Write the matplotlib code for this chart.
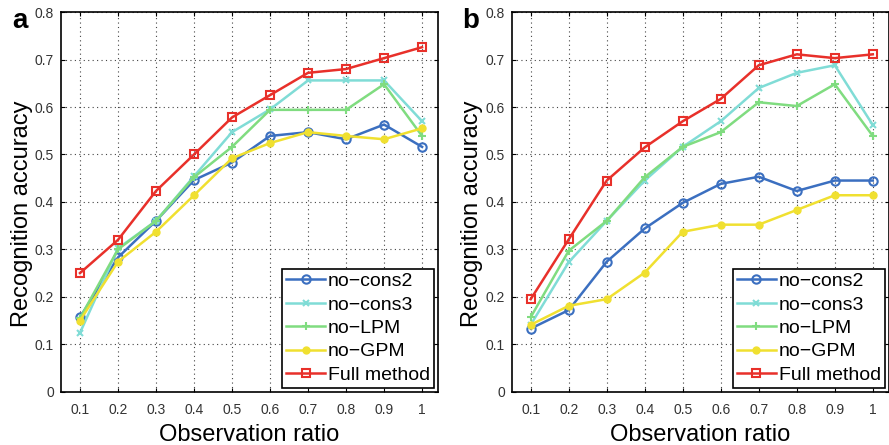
import matplotlib
matplotlib.use("Agg")
import matplotlib.pyplot as plt

# Daten
ratios = [0.1, 0.2, 0.3, 0.4, 0.5, 0.6, 0.7, 0.8, 0.9, 1.0]
xtick_labels = ["0.1", "0.2", "0.3", "0.4", "0.5", "0.6", "0.7", "0.8", "0.9", "1"]
yticks = [0, 0.1, 0.2, 0.3, 0.4, 0.5, 0.6, 0.7, 0.8]
ytick_labels = ["0", "0.1", "0.2", "0.3", "0.4", "0.5", "0.6", "0.7", "0.8"]
labels = ["no\u2212cons2", "no\u2212cons3", "no\u2212LPM", "no\u2212GPM", "Full method"]

# Panel a
a_cons2 = [0.157, 0.283, 0.36, 0.446, 0.483, 0.539, 0.547, 0.532, 0.563, 0.516]
a_cons3 = [0.124, 0.302, 0.36, 0.454, 0.547, 0.595, 0.656, 0.656, 0.656, 0.570]
a_lpm = [0.155, 0.300, 0.36, 0.452, 0.516, 0.594, 0.594, 0.594, 0.648, 0.539]
a_gpm = [0.150, 0.274, 0.337, 0.414, 0.492, 0.524, 0.547, 0.539, 0.532, 0.555]
a_full = [0.250, 0.320, 0.423, 0.500, 0.578, 0.625, 0.672, 0.680, 0.703, 0.726]

# Panel b
b_cons2 = [0.133, 0.172, 0.274, 0.344, 0.398, 0.438, 0.453, 0.423, 0.445, 0.445]
b_cons3 = [0.141, 0.273, 0.360, 0.445, 0.516, 0.570, 0.640, 0.672, 0.688, 0.562]
b_lpm = [0.157, 0.297, 0.360, 0.452, 0.516, 0.547, 0.610, 0.602, 0.648, 0.539]
b_gpm = [0.141, 0.181, 0.195, 0.251, 0.337, 0.352, 0.352, 0.383, 0.414, 0.414]
b_full = [0.195, 0.321, 0.445, 0.515, 0.570, 0.617, 0.688, 0.711, 0.703, 0.711]

colors = ["#3b6fc0", "#80dcd6", "#80dc80", "#f0e030", "#e8302a"]
styles = [
    dict(marker="o", markersize=6, markerfacecolor="none", markeredgewidth=1.5),
    dict(marker="x", markersize=4, markeredgewidth=1.5),
    dict(marker="+", markersize=6, markeredgewidth=1.5),
    dict(marker="o", markersize=5),
    dict(marker="s", markersize=6, markerfacecolor="none", markeredgewidth=1.5),
]

plt.rcParams["font.family"] = ["Liberation Sans", "DejaVu Sans"]

fig = plt.figure(figsize=(8.89, 4.45), dpi=100)
ax_a = fig.add_axes([0.0686, 0.1198, 0.4241, 0.853])
ax_b = fig.add_axes([0.5756, 0.1198, 0.4241, 0.853])

for ax, series, letter in [(ax_a, [a_cons2, a_cons3, a_lpm, a_gpm, a_full], "a"),
                           (ax_b, [b_cons2, b_cons3, b_lpm, b_gpm, b_full], "b")]:
    for vals, col, st, lab in zip(series, colors, styles, labels):
        ax.plot(ratios, vals, color=col, linewidth=1.8, label=lab, **st)
    ax.set_xlim(0.05, 1.042)
    ax.set_ylim(0, 0.8)
    ax.set_xticks(ratios)
    ax.set_xticklabels(xtick_labels)
    ax.set_yticks(yticks)
    ax.set_yticklabels(ytick_labels)
    ax.tick_params(direction="in", top=True, right=True, labelsize=10,
                   labelcolor="#333333", length=3)
    ax.tick_params(axis="x", pad=8)
    ax.tick_params(axis="y", pad=5)
    ax.grid(True, linestyle=(0, (1, 3)), color="#444444", linewidth=0.8)
    for sp in ax.spines.values():
        sp.set_linewidth(1.2)
    ax.set_xlabel("Observation ratio", fontsize=17, va="top")
    ax.xaxis.set_label_coords(0.5, -0.085)
    ax.set_ylabel("Recognition accuracy", fontsize=17)
    ax.yaxis.set_label_coords(-0.075, 0.47)
    leg = ax.legend(loc="lower right", fontsize=14, fancybox=False, framealpha=1,
                    edgecolor="black", handlelength=2.0, handletextpad=0.15,
                    borderpad=0.2, labelspacing=0.3, borderaxespad=0.2)
    leg.get_frame().set_linewidth(1.2)
    ax.text(-0.11, 0.958, letter, transform=ax.transAxes, fontsize=20,
            fontweight="bold", ha="center", va="baseline")

fig.savefig("out.png", dpi=100)
